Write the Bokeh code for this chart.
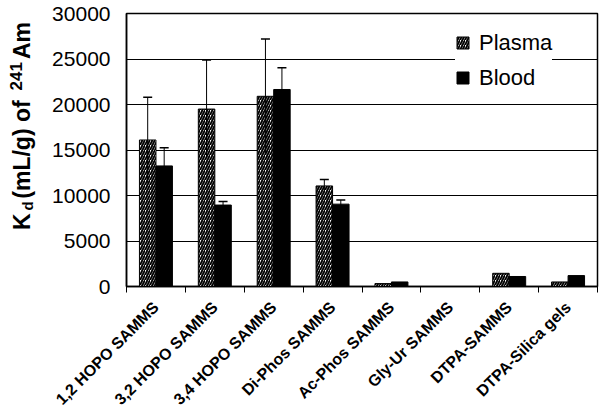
import math
from bokeh.plotting import figure
from bokeh.layouts import row
from bokeh.models import (ColumnDataSource, Range1d, FixedTicker, LinearAxis, Whisker,
                          TeeHead, Legend, LegendItem)
from bokeh.core.properties import value
from bokeh.embed import file_html
from bokeh.resources import INLINE

categories = ["1,2 HOPO SAMMS", "3,2 HOPO SAMMS", "3,4 HOPO SAMMS", "Di-Phos SAMMS",
              "Ac-Phos SAMMS", "Gly-Ur SAMMS", "DTPA-SAMMS", "DTPA-Silica gels"]
plasma = [16100, 19500, 20900, 11050, 320, 0, 1450, 500]
plasma_err = [4700, 5400, 6300, 700, 0, 0, 0, 0]
blood = [13250, 8950, 21650, 9050, 500, 0, 1100, 1200]
blood_err = [2000, 400, 2400, 450, 0, 0, 0, 0]
y_ticks = [0, 5000, 10000, 15000, 20000, 25000, 30000]

FONT = "Liberation Sans"
BW = 0.28
TW = 40  # width of the title strip
W, H = 600, 416
TOP, BOT = 13, 128

idx = list(range(len(categories)))
src_p = ColumnDataSource(dict(x=[i + 0.5 - BW / 2 for i in idx], top=plasma))
src_b = ColumnDataSource(dict(x=[i + 0.5 + BW / 2 for i in idx], top=blood))

ep = [i for i in idx if plasma_err[i] > 0]
eb = [i for i in idx if blood_err[i] > 0]
werr_p = ColumnDataSource(dict(x=[i + 0.5 - BW / 2 for i in ep],
                               up=[plasma[i] + plasma_err[i] for i in ep],
                               lo=[plasma[i] - plasma_err[i] for i in ep]))
werr_b = ColumnDataSource(dict(x=[i + 0.5 + BW / 2 for i in eb],
                               up=[blood[i] + blood_err[i] for i in eb],
                               lo=[blood[i] - blood_err[i] for i in eb]))

yr = Range1d(0, 30000)
p = figure(width=W - TW, height=H, output_backend="svg", toolbar_location=None,
           x_range=Range1d(0, len(categories)), y_range=yr,
           min_border_left=86, min_border_right=3, min_border_top=TOP, min_border_bottom=BOT,
           background_fill_color="white", border_fill_color="white")
p.outline_line_color = "black"
p.outline_line_width = 1.5

p.xgrid.visible = False
p.ygrid.ticker = FixedTicker(ticks=y_ticks)
p.ygrid.grid_line_color = "black"
p.ygrid.grid_line_width = 1

# y axis
p.yaxis.ticker = FixedTicker(ticks=y_ticks)
p.yaxis.major_label_text_font = FONT
p.yaxis.major_label_text_font_size = "21px"
p.yaxis.major_label_text_color = "black"
p.yaxis.axis_line_color = "black"
p.yaxis.axis_line_width = 1.5
p.yaxis.major_tick_in = 5
p.yaxis.major_tick_out = 0
p.yaxis.major_tick_line_color = "black"
p.yaxis.minor_tick_line_color = None
p.yaxis.major_label_standoff = 16

# x axis (boundary ticks only)
p.xaxis.ticker = FixedTicker(ticks=list(range(len(categories) + 1)))
p.xaxis.major_label_overrides = {i: "" for i in range(len(categories) + 1)}
p.xaxis.major_label_text_font_size = "1px"
p.xaxis.major_label_standoff = 0
p.xaxis.axis_line_color = "black"
p.xaxis.axis_line_width = 1.5
p.xaxis.major_tick_out = 6
p.xaxis.major_tick_in = 0
p.xaxis.major_tick_line_color = "black"
p.xaxis.minor_tick_line_color = None

# category label axis
lab_axis = LinearAxis(ticker=FixedTicker(ticks=[i + 0.5 for i in idx]),
                      major_label_overrides={i + 0.5: c for i, c in enumerate(categories)})
lab_axis.axis_line_color = None
lab_axis.major_tick_line_color = None
lab_axis.minor_tick_line_color = None
lab_axis.major_label_orientation = math.pi / 4
lab_axis.major_label_text_font = FONT
lab_axis.major_label_text_font_style = "bold"
lab_axis.major_label_text_font_size = "16px"
lab_axis.major_label_text_color = "black"
lab_axis.major_label_standoff = 6
p.add_layout(lab_axis, "below")

rp = p.vbar(x="x", top="top", width=BW, source=src_p, fill_color="white", line_color="black",
            line_width=1, hatch_pattern="/", hatch_color="black", hatch_scale=5, hatch_weight=1.9)
rb = p.vbar(x="x", top="top", width=BW, source=src_b, fill_color="black", line_color="black",
            line_width=1)

wp = Whisker(source=werr_p, base="x", upper="up", lower="lo", line_color="black", line_width=1,
             upper_head=TeeHead(size=9, line_color="black", line_width=1.5), lower_head=None,
             level="annotation")
wb = Whisker(source=werr_b, base="x", upper="up", lower="lo", line_color="black", line_width=1,
             upper_head=TeeHead(size=9, line_color="black", line_width=1.5), lower_head=None,
             level="annotation")
p.add_layout(wp)
p.add_layout(wb)

legend = Legend(items=[LegendItem(label="Plasma", renderers=[rp]),
                       LegendItem(label="Blood", renderers=[rb])],
                location=(329, 193), orientation="vertical")
legend.label_text_font = FONT
legend.label_text_font_size = "22px"
legend.label_text_color = "black"
legend.glyph_width = 15
legend.glyph_height = 15
legend.label_height = 31
legend.spacing = 4
legend.padding = 6
legend.margin = 0
legend.label_standoff = 9
legend.border_line_color = None
legend.background_fill_color = "white"
legend.background_fill_alpha = 1
p.add_layout(legend)

# title strip sharing the y range: y-axis title with subscript / superscript pieces
tf = figure(width=TW, height=H, output_backend="svg", toolbar_location=None,
            x_range=Range1d(0, TW), y_range=yr, min_border_left=0, min_border_right=0,
            min_border_top=TOP, min_border_bottom=BOT,
            background_fill_color="white", border_fill_color="white")
tf.axis.visible = False
tf.grid.visible = False
tf.outline_line_color = None

def ttl(text, ypos, xpos=21, size="23px"):
    tf.text(x=[xpos], y=[ypos], text=[text], angle=math.pi / 2,
            text_align="left", text_baseline="middle", text_font=value(FONT),
            text_font_style="bold", text_font_size=value(size), text_color="black")

ttl("K", 6200)
ttl("d", 8350, xpos=27, size="15px")
ttl("(mL/g) of", 9650)
ttl("241", 21550, xpos=15, size="17px")
ttl("Am", 25000)

layout = row(tf, p)
open("out.html", "w").write(file_html(layout, INLINE))
